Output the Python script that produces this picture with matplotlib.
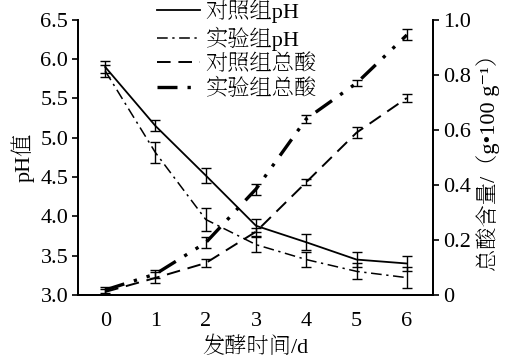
import numpy as np
import matplotlib
matplotlib.use("Agg")
import matplotlib.pyplot as plt
from matplotlib.lines import Line2D

plt.rcParams['font.family'] = ['Liberation Serif', 'Noto Serif SC', 'DejaVu Serif']

days = [0, 1, 2, 3, 4, 5, 6]

ph_ctrl = [5.90, 5.15, 4.52, 3.88, 3.67, 3.45, 3.40]
ph_ctrl_err = [0.08, 0.07, 0.10, 0.08, 0.10, 0.10, 0.10]
ph_exp = [5.85, 4.81, 3.96, 3.64, 3.45, 3.30, 3.22]
ph_exp_err = [0.08, 0.13, 0.15, 0.10, 0.10, 0.10, 0.13]

acid_ctrl = [0.011, 0.062, 0.116, 0.23, 0.41, 0.59, 0.716]
acid_ctrl_err = [0.01, 0.02, 0.015, 0.015, 0.01, 0.02, 0.015]
acid_exp = [0.018, 0.076, 0.19, 0.385, 0.64, 0.77, 0.945]
acid_exp_err = [0.01, 0.015, 0.02, 0.02, 0.015, 0.01, 0.02]

labels = ['对照组pH', '实验组pH', '对照组总酸', '实验组总酸']

fig = plt.figure(figsize=(5.07, 3.61), dpi=100)
ax = fig.add_axes([0.154, 0.183, 0.700, 0.762])
ax2 = ax.twinx()

ekw = dict(ecolor='black', elinewidth=1.0, capsize=3.5, capthick=1.0)

ax.errorbar(days, ph_ctrl, yerr=ph_ctrl_err, color='black', lw=1.3, ls='-', **ekw)
ax.errorbar(days, ph_exp, yerr=ph_exp_err, color='black', lw=1.1,
            dashes=(7, 3, 1.5, 3), **ekw)
ax2.errorbar(days, acid_ctrl, yerr=acid_ctrl_err, color='black', lw=1.4,
             dashes=(7, 4), **ekw)
ax2.errorbar(days, acid_exp, yerr=acid_exp_err, color='black', lw=2.4,
             dashes=(6, 3, 1, 3, 1, 3), **ekw)

ax.set_xlim(-0.54, 6.52)
ax.set_ylim(3.0, 6.5)
ax2.set_ylim(0, 1.0)
ax.set_xticks(days)
ax.set_yticks([3.0, 3.5, 4.0, 4.5, 5.0, 5.5, 6.0, 6.5])
ax.set_yticklabels(['3.0', '3.5', '4.0', '4.5', '5.0', '5.5', '6.0', '6.5'])
ax2.set_yticks([0, 0.2, 0.4, 0.6, 0.8, 1.0])
ax2.set_yticklabels(['0', '0.2', '0.4', '0.6', '0.8', '1.0'])

for a in (ax, ax2):
    a.spines['top'].set_visible(False)
    for s in a.spines.values():
        s.set_linewidth(1.3)
    a.tick_params(labelsize=16, width=1.2, length=4, pad=3)
ax.tick_params(axis='x', length=0, pad=12)

ax.set_xlabel('发酵时间/d', fontsize=16, labelpad=4)
ax.set_ylabel('pH值', fontsize=16, labelpad=4)
ax2.set_ylabel('总酸含量/（g•100 g⁻¹）', fontsize=16, labelpad=4)

handles = [
    Line2D([], [], color='black', lw=1.3, ls='-'),
    Line2D([], [], color='black', lw=1.1, dashes=(7, 3, 1.5, 3)),
    Line2D([], [], color='black', lw=1.4, dashes=(7, 4)),
    Line2D([], [], color='black', lw=2.4, dashes=(6, 3, 1, 3, 1, 3)),
]
fig.legend(handles, labels, loc='upper left', bbox_to_anchor=(0.278, 1.045),
           frameon=False, fontsize=16, handlelength=1.95, handletextpad=0.25,
           labelspacing=0.17, borderpad=0.2)

fig.savefig('out.png', dpi=100)
